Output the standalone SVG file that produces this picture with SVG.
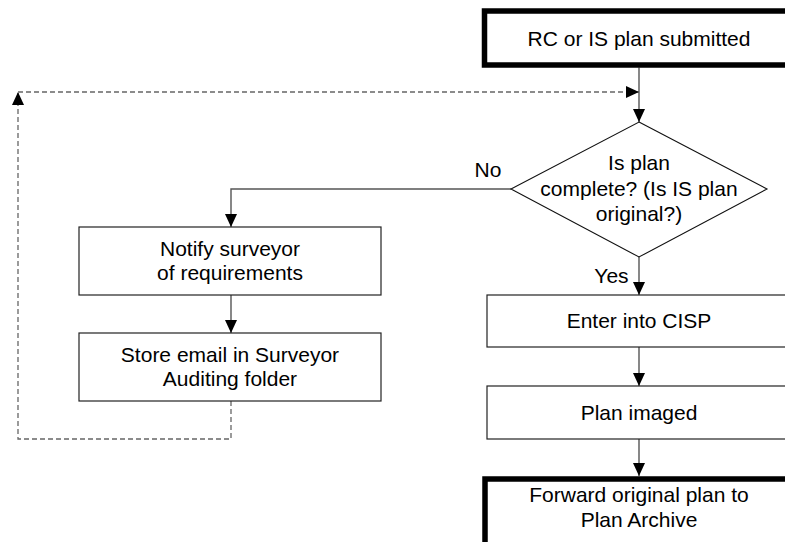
<svg xmlns="http://www.w3.org/2000/svg" width="785" height="542" viewBox="0 0 785 542">
  <defs>
    <marker id="arr" markerUnits="userSpaceOnUse" viewBox="0 0 13 12" refX="13" refY="6" markerWidth="13" markerHeight="12" orient="auto">
      <path d="M0,0 L13,6 L0,12 z" fill="#000"/>
    </marker>
    <style>
      .box { fill: #fff; stroke: #222; stroke-width: 1.2; }
      .term { fill: #fff; stroke: #000; stroke-width: 5.5; }
      .t { font-family: "Liberation Sans", Arial, sans-serif; font-size: 21px; fill: #000; text-anchor: middle; }
      .c { fill: none; stroke: #555; stroke-width: 1.4; }
      .d { fill: none; stroke: #666; stroke-width: 1.3; stroke-dasharray: 5 3; }
    </style>
  </defs>
  <rect width="785" height="542" fill="#fff"/>

  <g id="connectors">
    <path class="c" d="M639,67.5 L639,122" marker-end="url(#arr)"/>
    <path class="c" d="M639,257 L639,295" marker-end="url(#arr)"/>
    <path class="c" d="M639,347 L639,386" marker-end="url(#arr)"/>
    <path class="c" d="M639,439 L639,476" marker-end="url(#arr)"/>
    <path class="c" d="M511,189 L231,189 L231,227" marker-end="url(#arr)"/>
    <path class="c" d="M231,295 L231,333" marker-end="url(#arr)"/>
    <path class="d" d="M231,401 L231,439 L18,439 L18,92" marker-end="url(#arr)"/>
    <path class="d" d="M18,92 L639,92" marker-end="url(#arr)"/>
    <text class="t" x="488" y="177">No</text>
    <text class="t" x="611.5" y="283">Yes</text>
  </g>

  <g id="submitted">
    <rect class="term" x="484.5" y="11" width="310" height="54"/>
    <text class="t" x="639" y="46">RC or IS plan submitted</text>
  </g>

  <g id="decision">
    <polygon points="639,122 767,189 639,257 511,189" fill="#fff" stroke="#111" stroke-width="1.1"/>
    <text class="t" x="639" y="170">Is plan</text>
    <text class="t" x="639" y="195.5">complete? (Is IS plan</text>
    <text class="t" x="639" y="221">original?)</text>
  </g>

  <g id="notify">
    <rect class="box" x="79" y="227" width="302" height="68"/>
    <text class="t" x="230" y="255.5">Notify surveyor</text>
    <text class="t" x="230" y="280">of requirements</text>
  </g>

  <g id="store">
    <rect class="box" x="79" y="333" width="302" height="68"/>
    <text class="t" x="230" y="361.5">Store email in Surveyor</text>
    <text class="t" x="230" y="386">Auditing folder</text>
  </g>

  <g id="enter">
    <rect class="box" x="487" y="295" width="310" height="52"/>
    <text class="t" x="639" y="327.5">Enter into CISP</text>
  </g>

  <g id="imaged">
    <rect class="box" x="487" y="386" width="310" height="53"/>
    <text class="t" x="639" y="419.5">Plan imaged</text>
  </g>

  <g id="forward">
    <rect class="term" x="485" y="479" width="310" height="80"/>
    <text class="t" x="639" y="501.5">Forward original plan to</text>
    <text class="t" x="639" y="526.5">Plan Archive</text>
  </g>
</svg>
